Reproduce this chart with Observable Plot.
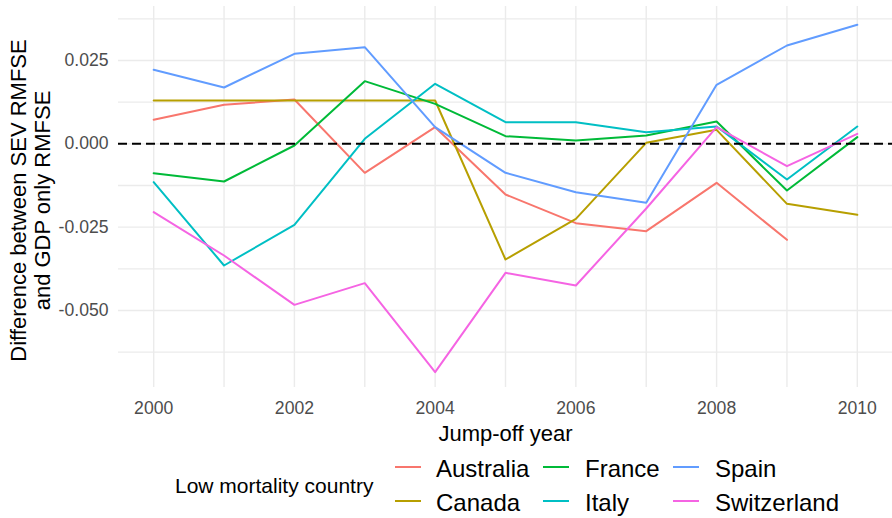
<!DOCTYPE html>
<html>
<head>
<meta charset="utf-8">
<script src="https://cdn.jsdelivr.net/npm/d3@7"></script>
<script src="https://cdn.jsdelivr.net/npm/@observablehq/plot@0.6"></script>
<style>
  html, body { margin: 0; padding: 0; background: #fff; }
  #chart { width: 892px; height: 518px; overflow: hidden; font-family: "Liberation Sans", Arial, sans-serif; }
  #chart svg { display: block; }
</style>
</head>
<body>
<div id="chart"></div>
<script>
// ---- data ----
const years = [2000, 2001, 2002, 2003, 2004, 2005, 2006, 2007, 2008, 2009, 2010];
const countries = ["Australia", "Canada", "France", "Italy", "Spain", "Switzerland"];
const colors = ["#F8766D", "#B79F00", "#00BA38", "#00BFC4", "#619CFF", "#F564E3"];

const australia   = [0.0072, 0.0117, 0.0133, -0.0087, 0.0050, -0.0152, -0.0238, -0.0262, -0.0117, -0.0288, null];
const canada      = [0.0130, 0.0130, 0.0130, 0.0130, 0.0130, -0.0347, -0.0225, 0.0003, 0.0042, -0.0180, -0.0213];
const france      = [-0.0088, -0.0113, -0.0005, 0.0188, 0.0120, 0.0023, 0.0010, 0.0025, 0.0067, -0.0140, 0.0020];
const italy       = [-0.0115, -0.0365, -0.0243, 0.0015, 0.0180, 0.0065, 0.0065, 0.0035, 0.0052, -0.0107, 0.0052];
const spain       = [0.0222, 0.0169, 0.0270, 0.0290, 0.0050, -0.0087, -0.0145, -0.0177, 0.0177, 0.0295, 0.0357];
const switzerland = [-0.0205, -0.0335, -0.0483, -0.0418, -0.0685, -0.0387, -0.0425, -0.0194, 0.0050, -0.0067, 0.0030];

const xTicks = [2000, 2002, 2004, 2006, 2008, 2010];
const yTicks = [-0.050, -0.025, 0.000, 0.025];
const yGrid = [-0.0625, -0.05, -0.0375, -0.025, -0.0125, 0, 0.0125, 0.025, 0.0375];

const yTitle = "Difference between SEV RMFSE\nand GDP only RMFSE";
const xTitle = "Jump-off year";
const legendTitle = "Low mortality country";

// ---- build table ----
const seriesValues = [australia, canada, france, italy, spain, switzerland];
const rows = [];
countries.forEach((c, i) => {
  seriesValues[i].forEach((v, j) => {
    if (v != null) rows.push({country: c, year: years[j], value: v});
  });
});

const FONT = "Liberation Sans, Arial, sans-serif";

const plot = Plot.plot({
  width: 892,
  height: 448,
  marginLeft: 118,
  marginRight: 0,
  marginTop: 6,
  marginBottom: 61,
  style: {fontFamily: FONT, background: "#fff"},
  x: {type: "linear", domain: [1999.5, 2010.5]},
  y: {domain: [-0.0731, 0.0412]},
  color: {domain: countries, range: colors},
  marks: [
    Plot.ruleY(yGrid, {stroke: "#ebebeb", strokeWidth: 1.4}),
    Plot.ruleX(years, {stroke: "#ebebeb", strokeWidth: 1.4}),
    Plot.axisX(xTicks, {tickSize: 0, tickPadding: 14, tickFormat: d => String(d), fontSize: 17.6, color: "#4d4d4d", label: null}),
    Plot.axisY(yTicks, {tickSize: 0, tickPadding: 10, tickFormat: d => d.toFixed(3), fontSize: 17.6, color: "#4d4d4d", label: null}),
    Plot.line(rows, {x: "year", y: "value", z: "country", stroke: "country", strokeWidth: 2}),
    Plot.ruleY([0], {stroke: "#000", strokeWidth: 2, strokeDasharray: "9,5"}),
    Plot.text([yTitle], {frameAnchor: "left", rotate: -90, dx: -88, dy: 3.5, fontSize: 22, fill: "#000", lineHeight: 1.09, textAnchor: "middle", lineAnchor: "middle"}),
    Plot.text([xTitle], {frameAnchor: "bottom", dy: 46, fontSize: 22, fill: "#000", textAnchor: "middle", lineAnchor: "middle"})
  ]
});

const chart = document.getElementById("chart");
chart.appendChild(plot);

// ---- legend (below the plot) ----
const legend = d3.create("svg")
  .attr("width", 892)
  .attr("height", 70)
  .attr("font-family", FONT);

legend.append("text")
  .attr("x", 175)
  .attr("y", 45.3)
  .attr("font-size", 21)
  .attr("fill", "#000")
  .text(legendTitle);

const keyX = [395, 543, 673];
const textX = [436, 585, 715];
const keyY = [19, 53];
const baseY = [28.7, 63];
countries.forEach((c, i) => {
  const col = Math.floor(i / 2), row = i % 2;
  legend.append("line")
    .attr("x1", keyX[col]).attr("x2", keyX[col] + 26)
    .attr("y1", keyY[row]).attr("y2", keyY[row])
    .attr("stroke", colors[i]).attr("stroke-width", 2);
  legend.append("text")
    .attr("x", textX[col]).attr("y", baseY[row])
    .attr("font-size", 24).attr("fill", "#000")
    .text(c);
});
chart.appendChild(legend.node());
</script>
</body>
</html>
